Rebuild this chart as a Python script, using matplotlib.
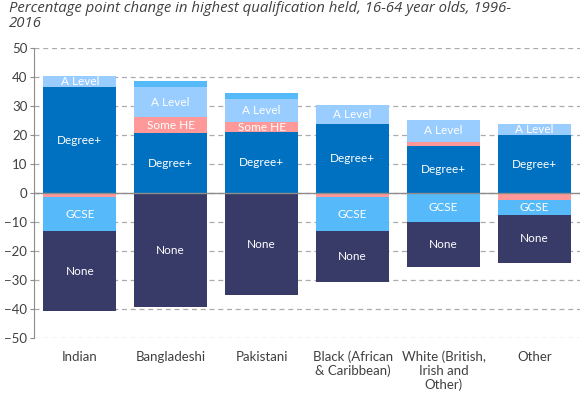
import matplotlib
matplotlib.use("Agg")
from matplotlib import pyplot as plt
import numpy as np

# data (percentage points)
groups = ["Indian", "Bangladeshi", "Pakistani", "Black (African\n& Caribbean)",
          "White (British,\nIrish and\nOther)", "Other"]
series = ["Degree+", "Some HE", "A Level", "GCSE", "None"]
degree = [36.7, 20.8, 21.1, 23.9, 16.3, 20.1]
some_he = [-1.3, 5.4, 3.5, -1.3, 1.4, -2.3]
a_level = [3.7, 10.5, 7.9, 6.5, 7.6, 3.8]
gcse = [-11.7, 2.0, 2.1, -11.7, -9.9, -5.2]
none = [-27.6, -39.2, -35.1, -17.6, -15.5, -16.5]

colors = ["#0070C0", "#FF9999", "#99CCFF", "#55B9FA", "#383B67"]
values = [degree, some_he, a_level, gcse, none]

plt.rcParams["font.family"] = ["Lato", "DejaVu Sans"]

fig = plt.figure(figsize=(5.82, 3.97), dpi=100)
ax = fig.add_axes([34.3 / 582, 1 - 338.3 / 397, (580 - 34.3) / 582, (338.3 - 48.3) / 397])

x = np.arange(len(groups))
pos_base = np.zeros(len(groups))
neg_base = np.zeros(len(groups))
for name, vals, col in zip(series, values, colors):
    vals = np.array(vals)
    bottom = np.where(vals >= 0, pos_base, neg_base)
    ax.bar(x, vals, 0.8, bottom=bottom, color=col, zorder=3)
    for i, v in enumerate(vals):
        if abs(v) >= 3:
            ax.text(x[i], bottom[i] + v / 2, name, ha="center", va="center",
                    color="white", fontsize=8.5, zorder=4)
    pos_base = np.where(vals >= 0, pos_base + vals, pos_base)
    neg_base = np.where(vals < 0, neg_base + vals, neg_base)

ax.set_xlim(-0.5, 5.5)
ax.set_ylim(-50, 50)
ax.set_yticks(np.arange(-50, 51, 10))
ax.yaxis.grid(True, linestyle=(0, (4, 3)), color="#ABABAB", linewidth=0.9, zorder=0)
ax.axhline(0, color="#8C8C8C", linewidth=1, zorder=5)
for s in ["top", "right", "bottom"]:
    ax.spines[s].set_visible(False)
ax.spines["left"].set_color("#8C8C8C")
ax.tick_params(axis="y", colors="#8C8C8C", labelcolor="#404040", labelsize=9.5, length=3, pad=2)
ax.tick_params(axis="x", length=0, labelcolor="#404040", labelsize=9.5, pad=9)
ax.set_xticks(x)
ax.set_xticklabels(groups, linespacing=1.15)

fig.text(9 / 582, 1 - 1 / 397,
         "Percentage point change in highest qualification held, 16-64 year olds, 1996-\n2016",
         ha="left", va="top", style="italic", fontsize=10.7, color="#404040", linespacing=0.98,
         family=["Open Sans", "DejaVu Sans"])

fig.savefig("out.png", dpi=100)
